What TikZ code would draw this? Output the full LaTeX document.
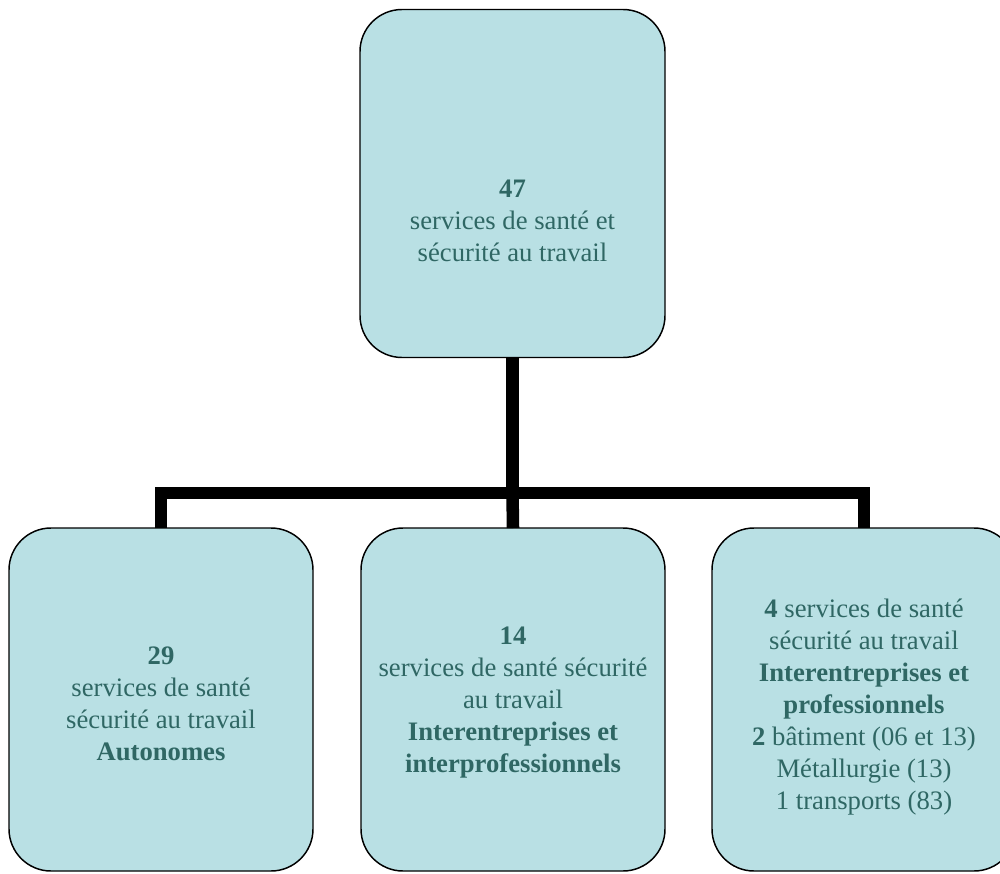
\documentclass[tikz,border=0pt]{standalone}
\usepackage{fontspec}
\setmainfont{Liberation Serif}
\definecolor{boxfill}{HTML}{B9E0E4}
\definecolor{boxtext}{HTML}{2F6764}
\begin{document}
\begin{tikzpicture}[x = 0.75pt, y = -0.75pt,
	servicebox/.style = {draw = black, line width = 1.1pt, fill = boxfill, rounded corners = 31.5pt, inner sep = 0pt, outer sep = 0pt, minimum width = 228pt},
	boxlabel/.style = {text = boxtext, align = center, inner sep = 0pt, font = \fontsize{20}{24}\selectfont},
	conn/.style = {draw = black, line width = 9.4pt, line join = miter}]
	\useasboundingbox (0,0) rectangle (1000,874);
	% Kästen
	\node[servicebox, minimum width = 228.75pt, minimum height = 261pt] (total) at (512.5,183.5) {};
	\node[servicebox, minimum height = 257.25pt] (autonomes) at (161,699.5) {};
	\node[servicebox, minimum height = 257.25pt] (interpro) at (513,699.5) {};
	\node[servicebox, minimum height = 257.25pt] (pro) at (864,699.5) {};
	% Texte
	\node[boxlabel] (total-txt) at (512.5,221) {\textbf{47}\\services de santé et\\sécurité au travail};
	\node[boxlabel] (autonomes-txt) at (161,704) {\textbf{29}\\services de santé\\sécurité au travail\\\textbf{Autonomes}};
	\node[boxlabel] (interpro-txt) at (513,703) {\textbf{14}\\services de santé sécurité\\au travail\\\textbf{Interentreprises et}\\\textbf{interprofessionnels}};
	\node[boxlabel] (pro-txt) at (864,707) {\textbf{4} services de santé\\sécurité au travail\\\textbf{Interentreprises et}\\\textbf{professionnels}\\\textbf{2} bâtiment (06 et 13)\\Métallurgie (13)\\1 transports (83)};
	% Verbindungen
	\coordinate (bar) at (512.5,493);
	\draw[conn] (total.south) -- (bar);
	\draw[conn] (autonomes.north) |- (bar) -| (pro.north);
	\draw[conn] (bar) -- (interpro.north);
\end{tikzpicture}
\end{document}
